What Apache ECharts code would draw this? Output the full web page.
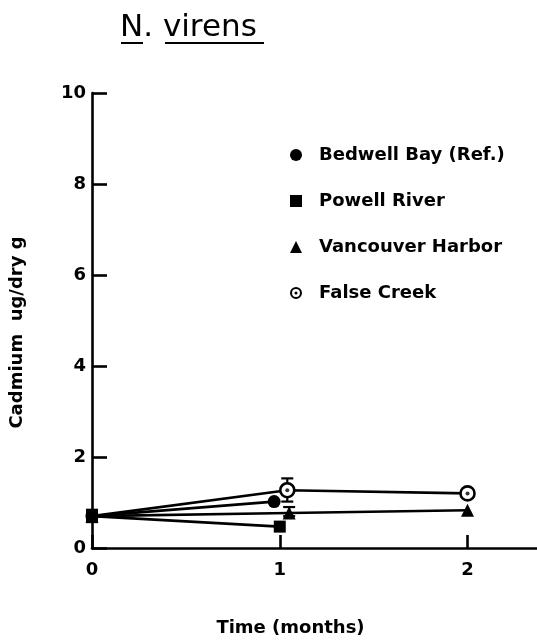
<!DOCTYPE html>
<html>
<head>
<meta charset="utf-8">
<script src="https://cdn.jsdelivr.net/npm/echarts@6/dist/echarts.min.js"></script>
<style>
  html, body { margin: 0; padding: 0; background: #fff; }
  #chart { width: 537px; height: 642px; }
</style>
</head>
<body>
<div id="chart"></div>
<script>
// Cadmium in N. virens tissue over time, by site
var seriesNames = ['Bedwell Bay (Ref.)', 'Powell River', 'Vancouver Harbor', 'False Creek'];

// [time (months, as plotted), cadmium ug/dry g]
var bedwellBay = [[0, 0.7], [0.97, 1.02]];
var powellRiver = [[0, 0.7], [1.0, 0.47]];
var vancouverHarbor = [[0, 0.7], [1.05, 0.77], [2.0, 0.83]];
var falseCreek = [[0, 0.7], [1.04, 1.27], [2.0, 1.2]];

// [time, low, high] for the error bars
var errorBars = [[0, 0.57, 0.84], [1.04, 1.02, 1.53], [1.05, 0.7, 0.9]];

var xTicks = [0, 1, 2];
var yTicks = [0, 2, 4, 6, 8, 10];

var FONT = 'DejaVu Sans';
var INK = '#000';

// ring with a centre dot (outer cw, hole ccw, dot cw) for the legend
var dotCircle = 'path://M0,-10A10,10 0 1 1 0,10A10,10 0 1 1 0,-10Z' +
  'M0,-6.6A6.6,6.6 0 1 0 0,6.6A6.6,6.6 0 1 0 0,-6.6Z' +
  'M0,-2.6A2.6,2.6 0 1 1 0,2.6A2.6,2.6 0 1 1 0,-2.6Z';

var legendIcons = ['circle', 'rect', 'triangle', dotCircle];
var symbols = ['circle', 'rect', 'triangle', 'circle'];
var symbolSizes = [13, 12, 13, 14];
var datasets = [bedwellBay, powellRiver, vancouverHarbor, falseCreek];

var chart = echarts.init(document.getElementById('chart'), null, { renderer: 'canvas' });

var series = datasets.map(function (d, i) {
  var hollow = i === 3;
  // the shared starting point is drawn as one solid mark
  var data = d.map(function (p, j) {
    return (hollow && j === 0) ? { value: p, symbol: 'none' } : p;
  });
  return {
    name: seriesNames[i],
    type: 'line',
    data: data,
    symbol: symbols[i],
    symbolSize: symbolSizes[i],
    showAllSymbol: true,
    lineStyle: { color: INK, width: 2.6 },
    itemStyle: hollow ? { color: '#fff', borderColor: INK, borderWidth: 2.6 } : { color: INK, borderWidth: 0 },
    z: 3 + i
  };
});

// centre dots of the False Creek rings
series.push({
  type: 'scatter',
  name: 'fc-dot',
  data: falseCreek.slice(1),
  symbol: 'circle',
  symbolSize: 4,
  itemStyle: { color: INK },
  z: 10
});

series.push({
  type: 'custom',
  name: 'err',
  data: errorBars,
  z: 2,
  renderItem: function (params, api) {
    var x = api.value(0);
    var lo = api.coord([x, api.value(1)]);
    var hi = api.coord([x, api.value(2)]);
    var w = 6;
    var st = { stroke: INK, lineWidth: 2.2 };
    return {
      type: 'group',
      children: [
        { type: 'line', shape: { x1: lo[0], y1: lo[1], x2: hi[0], y2: hi[1] }, style: st },
        { type: 'line', shape: { x1: lo[0] - w, y1: lo[1], x2: lo[0] + w, y2: lo[1] }, style: st },
        { type: 'line', shape: { x1: hi[0] - w, y1: hi[1], x2: hi[0] + w, y2: hi[1] }, style: st }
      ]
    };
  }
});

chart.setOption({
  backgroundColor: '#fff',
  animation: false,
  grid: { left: 92, right: 0, top: 93, bottom: 86, containLabel: false },
  xAxis: {
    type: 'value',
    min: 0,
    max: 2.37,
    interval: 1,
    splitLine: { show: false },
    axisLine: { show: true, lineStyle: { color: INK, width: 2.6 } },
    axisTick: { show: true, inside: true, length: 13, lineStyle: { color: INK, width: 2.6 } },
    axisLabel: {
      color: INK, fontFamily: FONT, fontSize: 18, fontWeight: 'bold', margin: 13, showMaxLabel: false,
      formatter: function (v) { return xTicks.indexOf(v) >= 0 ? String(v) : ''; }
    },
    name: 'Time (months)',
    nameLocation: 'middle',
    nameGap: 71,
    nameTextStyle: { color: INK, fontFamily: FONT, fontSize: 18, fontWeight: 'bold', padding: [0, 48, 0, 0] }
  },
  yAxis: {
    type: 'value',
    min: 0,
    max: 10,
    interval: 2,
    splitLine: { show: false },
    axisLine: { show: true, lineStyle: { color: INK, width: 2.6 } },
    axisTick: { show: true, inside: true, length: 15, lineStyle: { color: INK, width: 2.6 } },
    axisLabel: {
      color: INK, fontFamily: FONT, fontSize: 18, fontWeight: 'bold', margin: 6,
      formatter: function (v) { return yTicks.indexOf(v) >= 0 ? String(v) : ''; }
    },
    name: 'Cadmium  ug/dry g',
    nameLocation: 'middle',
    nameGap: 66,
    nameRotate: 90,
    nameTextStyle: { color: INK, fontFamily: FONT, fontSize: 18, fontWeight: 'bold', padding: [0, 24, 0, 0] }
  },
  legend: {
    orient: 'vertical',
    left: 285,
    top: 141,
    itemWidth: 12,
    itemHeight: 12,
    itemGap: 28,
    selectedMode: false,
    data: seriesNames.map(function (n, i) {
      return { name: n, icon: legendIcons[i], itemStyle: { color: INK, borderWidth: 0 } };
    }),
    textStyle: { color: INK, fontFamily: FONT, fontSize: 18, fontWeight: 'bold', padding: [0, 0, 0, 12] }
  },
  graphic: [
    {
      type: 'text', left: 120, top: 12,
      style: { text: 'N. virens', font: '31px "DejaVu Sans"', fill: INK }
    },
    { type: 'line', shape: { x1: 121, y1: 43, x2: 143, y2: 43 }, style: { stroke: INK, lineWidth: 2 } },
    { type: 'line', shape: { x1: 165, y1: 43, x2: 264, y2: 43 }, style: { stroke: INK, lineWidth: 2 } }
  ],
  series: series
});
</script>
</body>
</html>
